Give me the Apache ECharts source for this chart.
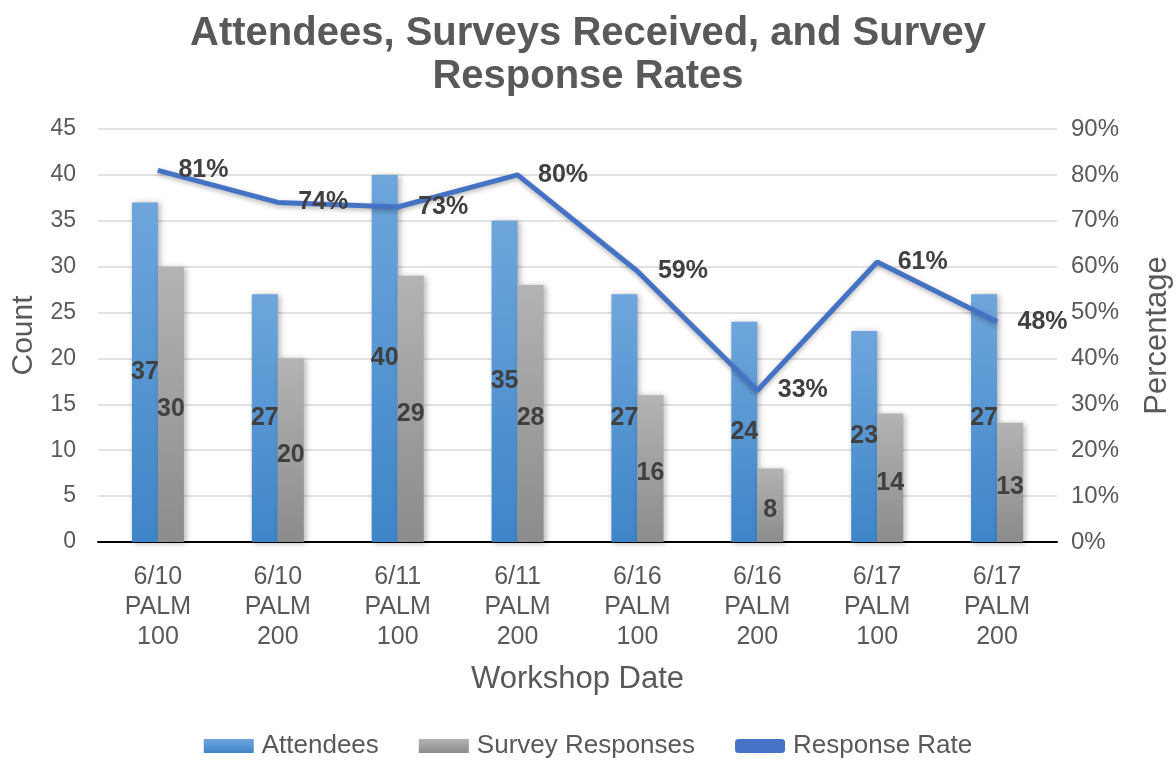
<!DOCTYPE html>
<html><head><meta charset="utf-8">
<script src="https://cdn.jsdelivr.net/npm/echarts@6/dist/echarts.min.js"></script>
<style>html,body{margin:0;padding:0;background:#fff}#c{width:1176px;height:764px}</style>
</head><body><div id="c"></div>
<script>
const categories = ['6/10\nPALM\n100','6/10\nPALM\n200','6/11\nPALM\n100','6/11\nPALM\n200','6/16\nPALM\n100','6/16\nPALM\n200','6/17\nPALM\n100','6/17\nPALM\n200'];
const attendees = [37, 27, 40, 35, 27, 24, 23, 27];
const surveys = [30, 20, 29, 28, 16, 8, 14, 13];
const rates = [0.81, 0.74, 0.73, 0.80, 0.59, 0.33, 0.61, 0.48];
const countTicks = {min: 0, max: 45, interval: 5};
const pctTicks = {min: 0, max: 0.9, interval: 0.1};

const font = 'Liberation Sans, Arial, sans-serif';
const grey = '#595959';
const chart = echarts.init(document.getElementById('c'));
const lbl = {show: true, position: 'inside', color: '#404040', fontWeight: 'bold', fontSize: 25, fontFamily: font};
chart.setOption({
  animation: false,
  title: {text: 'Attendees, Surveys Received, and Survey\nResponse Rates', left: 'center', top: 7,
    textStyle: {fontFamily: font, fontSize: 40, fontWeight: 'bold', color: grey, lineHeight: 43}},
  legend: {bottom: 0, left: 'center', itemWidth: 50, itemHeight: 14, itemGap: 40,
    textStyle: {fontFamily: font, fontSize: 26, color: grey, padding: [0,0,0,3]},
    data: [{name: 'Attendees', icon: 'rect'}, {name: 'Survey Responses', icon: 'rect'}, {name: 'Response Rate', icon: 'roundRect', itemStyle: {color: '#4472c4'}}]},
  grid: {left: 98, right: 119, top: 129, bottom: 222, containLabel: false, outerBoundsMode: 'none'},
  xAxis: {type: 'category', data: categories,
    name: 'Workshop Date', nameLocation: 'middle', nameGap: 122,
    nameTextStyle: {fontFamily: font, fontSize: 31, color: grey},
    axisLine: {lineStyle: {color: '#000', width: 2}}, axisTick: {show: false},
    axisLabel: {fontFamily: font, fontSize: 25, color: grey, lineHeight: 30, margin: 20}},
  yAxis: [
    {type: 'value', min: countTicks.min, max: countTicks.max, interval: countTicks.interval,
      name: 'Count', nameLocation: 'middle', nameGap: 59, nameRotate: 90,
      nameTextStyle: {fontFamily: font, fontSize: 30, color: grey},
      axisLabel: {fontFamily: font, fontSize: 23, color: grey, margin: 22},
      axisLine: {show: false}, axisTick: {show: false},
      splitLine: {lineStyle: {color: '#d9d9d9', width: 1.5}}},
    {type: 'value', min: pctTicks.min, max: pctTicks.max, interval: pctTicks.interval,
      name: 'Percentage', nameLocation: 'middle', nameGap: 85, nameRotate: 90,
      nameTextStyle: {fontFamily: font, fontSize: 31, color: grey},
      axisLabel: {fontFamily: font, fontSize: 24, color: grey, margin: 14,
        formatter: v => Math.round(v * 100) + '%'},
      axisLine: {show: false}, axisTick: {show: false}, splitLine: {show: false}}
  ],
  series: [
    {name: 'Attendees', type: 'bar', data: attendees, barWidth: 26, barGap: '0%',
      itemStyle: {color: new echarts.graphic.LinearGradient(0,0,0,1,[{offset:0,color:'#6ea6dc'},{offset:1,color:'#3e85c8'}]),
        shadowColor: 'rgba(0,0,0,0.3)', shadowBlur: 6, shadowOffsetX: 2, shadowOffsetY: 1},
      label: lbl},
    {name: 'Survey Responses', type: 'bar', data: surveys, barWidth: 26,
      itemStyle: {color: new echarts.graphic.LinearGradient(0,0,0,1,[{offset:0,color:'#b3b3b3'},{offset:1,color:'#8c8c8c'}]),
        shadowColor: 'rgba(0,0,0,0.3)', shadowBlur: 6, shadowOffsetX: 2, shadowOffsetY: 1},
      label: Object.assign({}, lbl, {offset: [0, 5]})},
    {name: 'Response Rate', type: 'line', yAxisIndex: 1, data: rates, symbol: 'circle', symbolSize: 1, showSymbol: true,
      lineStyle: {color: '#4472c4', width: 5, shadowColor: 'rgba(0,0,0,0.3)', shadowBlur: 5, shadowOffsetY: 2},
      itemStyle: {color: '#4472c4'},
      label: {show: true, position: 'right', distance: 20, color: '#404040', fontWeight: 'bold', fontSize: 25, fontFamily: font,
        formatter: p => Math.round(p.value * 100) + '%'}}
  ]
});
</script></body></html>
